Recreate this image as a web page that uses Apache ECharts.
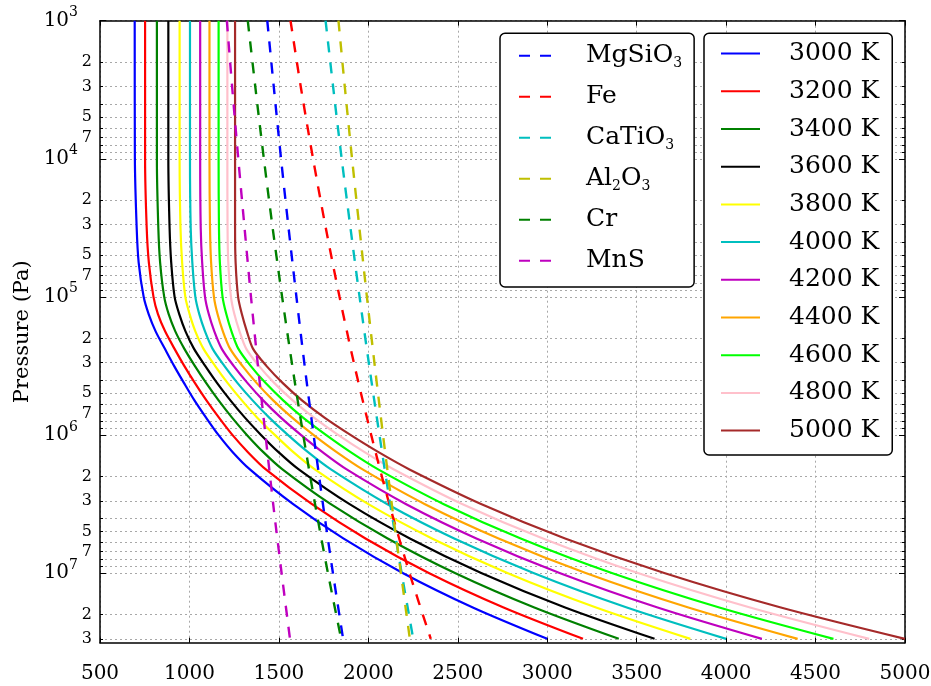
<!DOCTYPE html>
<html>
<head>
<meta charset="utf-8">
<script src="https://cdn.jsdelivr.net/npm/echarts@6/dist/echarts.min.js"></script>
<style>html,body{margin:0;padding:0;background:#fff}#c{width:931px;height:686px}</style>
</head>
<body>
<div id="c"></div>
<script>
// ---------------- data ----------------
const adiabatPressure = [1000, 10000, 31623, 56234, 100000, 133352, 177828, 237137, 316228, 421697,
  562341, 749894, 1000000, 1333521, 1778279, 3162278, 5623413, 10000000, 17782794, 30000000];
const adiabatLabels = ['3000 K','3200 K','3400 K','3600 K','3800 K','4000 K','4200 K','4400 K','4600 K','4800 K','5000 K'];
const t3000 = [694, 695, 705, 716, 744, 772, 811, 862, 914, 970, 1028, 1093, 1162, 1242, 1338, 1578, 1860, 2192, 2584, 3000];
const t3200 = [752, 752, 761, 773, 799, 824, 864, 916, 971, 1031, 1095, 1165, 1240, 1327, 1427, 1683, 1984, 2338, 2756, 3200];
const t3400 = [818, 818, 826, 836, 859, 884, 921, 971, 1030, 1094, 1163, 1238, 1321, 1413, 1520, 1788, 2108, 2484, 2928, 3400];
const t3600 = [882, 882, 889, 898, 917, 943, 978, 1025, 1088, 1155, 1229, 1310, 1400, 1498, 1611, 1893, 2232, 2631, 3100, 3600];
const t3800 = [945, 945, 950, 959, 977, 1001, 1033, 1078, 1143, 1214, 1293, 1379, 1477, 1581, 1701, 1998, 2356, 2777, 3273, 3800];
const t4000 = [1003, 1003, 1007, 1016, 1033, 1055, 1087, 1129, 1195, 1269, 1353, 1446, 1550, 1663, 1791, 2104, 2480, 2923, 3445, 4000];
const t4200 = [1060, 1060, 1063, 1071, 1087, 1108, 1139, 1180, 1247, 1325, 1412, 1511, 1623, 1744, 1879, 2209, 2604, 3069, 3617, 4200];
const t4400 = [1112, 1112, 1115, 1121, 1137, 1157, 1187, 1227, 1296, 1376, 1468, 1574, 1693, 1823, 1968, 2314, 2728, 3215, 3789, 4400];
const t4600 = [1163, 1163, 1165, 1170, 1185, 1206, 1235, 1273, 1342, 1426, 1524, 1635, 1763, 1901, 2055, 2419, 2852, 3361, 3962, 4600];
const t4800 = [1212, 1212, 1213, 1217, 1232, 1251, 1280, 1317, 1388, 1475, 1577, 1696, 1831, 1979, 2143, 2524, 2976, 3507, 4134, 4800];
const t5000 = [1255, 1255, 1255, 1258, 1272, 1293, 1321, 1355, 1430, 1522, 1629, 1755, 1900, 2057, 2230, 2630, 3100, 3654, 4306, 5000];

const condPressure = [1000, 3162, 10000, 31623, 100000, 316228, 1000000, 3162278, 10000000, 30000000];
const condNames = ['MgSiO3', 'Fe', 'CaTiO3', 'Al2O3', 'Cr', 'MnS'];
const condMgSiO3 = [1435, 1473, 1512, 1554, 1598, 1644, 1694, 1746, 1802, 1859];
const condFe     = [1565, 1625, 1691, 1762, 1839, 1923, 2016, 2117, 2230, 2349];
const condCaTiO3 = [1761, 1805, 1851, 1900, 1951, 2005, 2062, 2122, 2186, 2251];
const condAl2O3  = [1833, 1870, 1909, 1950, 1992, 2036, 2082, 2131, 2182, 2232];
const condCr     = [1326, 1370, 1416, 1465, 1518, 1575, 1636, 1702, 1774, 1848];
const condMnS    = [1209, 1240, 1273, 1308, 1344, 1383, 1425, 1468, 1515, 1562];

const yMajorTicks = [1e3, 1e4, 1e5, 1e6, 1e7];
const yMinorTicks = [2e3,3e3,4e3,5e3,6e3,7e3,8e3,9e3, 2e4,3e4,4e4,5e4,6e4,7e4,8e4,9e4,
  2e5,3e5,4e5,5e5,6e5,7e5,8e5,9e5, 2e6,3e6,4e6,5e6,6e6,7e6,8e6,9e6, 2e7,3e7];
const yMinorLabels = [2e3,3e3,5e3,7e3, 2e4,3e4,5e4,7e4, 2e5,3e5,5e5,7e5, 2e6,3e6,5e6,7e6, 2e7,3e7];
const yMin = 1000, yMax = 3.2e7;
const xMin = 500, xMax = 5000, xStep = 500;

// ---------------- styles ----------------
const F = 'DejaVu Serif';
const adiabatColors = ['#0000ff','#ff0000','#008000','#000000','#ffff00','#00bfbf','#bf00bf','#ffa500','#00ff00','#ffc0cb','#a52a2a'];
const condColors = ['#0000ff','#ff0000','#00bfbf','#bfbf00','#008000','#bf00bf'];
const condRich = {MgSiO3:'MgSiO{s|3}', Fe:'Fe', CaTiO3:'CaTiO{s|3}', Al2O3:'Al{s|2}O{s|3}', Cr:'Cr', MnS:'MnS'};
const gridStyle = {color:'#a8a8a8', width:1, type:[2,3]};

const adiabatTemps = [t3000,t3200,t3400,t3600,t3800,t4000,t4200,t4400,t4600,t4800,t5000];
const condTemps = [condMgSiO3, condFe, condCaTiO3, condAl2O3, condCr, condMnS];

const lg = v => Math.log10(v);
const majorLog = yMajorTicks.map(lg);
const allTickLog = yMajorTicks.concat(yMinorTicks).map(lg);
const labelLog = yMajorTicks.concat(yMinorLabels).map(lg);
const yTopLog = lg(yMax), yBotLog = lg(yMin);

function yLabel(v) {
  const e = Math.round(v);
  if (Math.abs(v - e) < 1e-6) return '{b|10}{s|' + e + '}{p| }';
  return '{m|' + Math.round(Math.pow(10, v - Math.floor(v))) + '}';
}

const series = [];
adiabatTemps.forEach((temps, i) => {
  series.push({
    name: adiabatLabels[i], type: 'line', xAxisIndex: 0, yAxisIndex: 0,
    data: temps.map((t, j) => [t, adiabatPressure[j]]),
    symbol: 'none', showSymbol: false, smooth: 0.3, silent: true,
    lineStyle: {color: adiabatColors[i], width: 2.2}, itemStyle: {color: adiabatColors[i]},
    z: 2
  });
});
condTemps.forEach((temps, i) => {
  series.push({
    name: condNames[i], type: 'line', xAxisIndex: 0, yAxisIndex: 0,
    data: temps.map((t, j) => [t, condPressure[j]]),
    symbol: 'none', showSymbol: false, smooth: 0.3, silent: true,
    lineStyle: {color: condColors[i], width: 2.4, type: [11, 10]}, itemStyle: {color: condColors[i]},
    z: 3
  });
});

function valueY(position, opts) {
  return Object.assign({
    type: 'value', min: yBotLog, max: yTopLog, inverse: true, position: position,
    axisLine: {show: false}, axisTick: {show: false}, axisLabel: {show: false}, splitLine: {show: false}
  }, opts);
}

const option = {
  animation: false,
  backgroundColor: '#fff',
  grid: {left: 100, right: 26, top: 20.7, bottom: 43.3, containLabel: false, outerBoundsMode: 'none'},
  xAxis: [
    {type: 'value', min: xMin, max: xMax, interval: xStep, position: 'bottom',
     axisLine: {show: true, onZero: false, lineStyle: {color: '#000', width: 1.5}},
     axisTick: {show: true, inside: true, length: 5, lineStyle: {color: '#000', width: 1}},
     axisLabel: {show: true, margin: 21, fontFamily: F, fontSize: 20, color: '#000', formatter: v => String(v)},
     splitLine: {show: true, lineStyle: gridStyle}},
    {type: 'value', min: xMin, max: xMax, interval: xStep, position: 'top',
     axisLine: {show: true, onZero: false, lineStyle: {color: '#000', width: 1.5}},
     axisTick: {show: true, inside: true, length: 5, lineStyle: {color: '#000', width: 1}},
     axisLabel: {show: false}, splitLine: {show: false}}
  ],
  yAxis: [
    {type: 'log', logBase: 10, min: yMin, max: yMax, inverse: true, show: false,
     axisLine: {show: false}, splitLine: {show: false}},
    valueY('left', {
      axisLine: {show: true, onZero: false, lineStyle: {color: '#000', width: 1.5}},
      axisTick: {show: true, inside: true, length: 3, customValues: allTickLog, lineStyle: {color: '#000', width: 1}},
      axisLabel: {show: true, customValues: labelLog, formatter: yLabel, margin: 8, color: '#000',
        fontFamily: F, fontSize: 16,
        rich: {
          b: {fontFamily: F, fontSize: 20, lineHeight: 30, color: '#000'},
          s: {fontFamily: F, fontSize: 14, lineHeight: 14, verticalAlign: 'top', color: '#000'},
          p: {width: 14, fontSize: 14},
          m: {fontFamily: F, fontSize: 16, color: '#000'}
        }},
      splitLine: {show: true, lineStyle: gridStyle},
      name: 'Pressure (Pa)', nameLocation: 'middle', nameGap: 67, nameRotate: 90,
      nameTextStyle: {fontFamily: F, fontSize: 21, color: '#000'}
    }),
    valueY('left', {
      axisTick: {show: true, inside: true, length: 6, customValues: majorLog, lineStyle: {color: '#000', width: 1}}
    }),
    valueY('right', {
      axisLine: {show: true, onZero: false, lineStyle: {color: '#000', width: 1.5}},
      axisTick: {show: true, inside: true, length: 3, customValues: allTickLog, lineStyle: {color: '#000', width: 1}}
    }),
    valueY('right', {
      axisTick: {show: true, inside: true, length: 6, customValues: majorLog, lineStyle: {color: '#000', width: 1}}
    })
  ],
  legend: [
    {data: condNames, orient: 'vertical', left: 500, top: 33.3,
     itemWidth: 33, itemHeight: 14, itemGap: 11, padding: [7.4, 12, 11.3, 18],
     backgroundColor: '#fff', borderColor: '#000', borderWidth: 1.5, borderRadius: 5,
     selectedMode: false, formatter: n => condRich[n],
     itemStyle: {opacity: 0, borderWidth: 0},
     textStyle: {fontFamily: F, fontSize: 25, lineHeight: 30, color: '#000', padding: [0, 0, 0, 29],
       rich: {s: {fontFamily: F, fontSize: 14, lineHeight: 10, verticalAlign: 'bottom', color: '#000'}}}},
    {data: adiabatLabels, orient: 'vertical', left: 704, top: 33.3,
     itemWidth: 39, itemHeight: 14, itemGap: 7.7, padding: [5.3, 13, 9.4, 16],
     backgroundColor: '#fff', borderColor: '#000', borderWidth: 1.5, borderRadius: 5,
     selectedMode: false,
     itemStyle: {opacity: 0, borderWidth: 0},
     textStyle: {fontFamily: F, fontSize: 25, lineHeight: 30, color: '#000', padding: [0, 0, 0, 24]}}
  ],
  series: series
};

const chart = echarts.init(document.getElementById('c'), null, {renderer: 'canvas'});
chart.setOption(option);
</script>
</body>
</html>
